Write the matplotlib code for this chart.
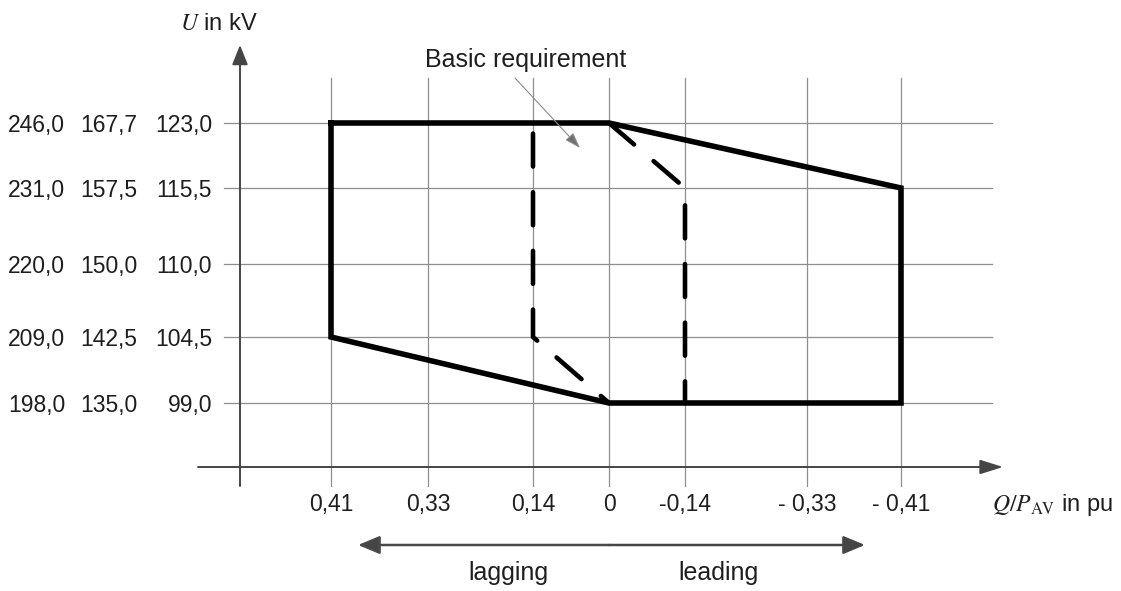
import numpy as np
import matplotlib
matplotlib.use("Agg")
import matplotlib.pyplot as plt
from matplotlib.transforms import blended_transform_factory as blend

plt.rcParams["font.family"] = ["Liberation Sans", "DejaVu Sans"]
plt.rcParams["mathtext.fontset"] = "stix"

# ---- data -------------------------------------------------------------
q_ticks = [0.41, 0.33, 0.14, 0.0, -0.14, -0.33, -0.41]
q_labels = ["0,41", "0,33", "0,14", "0", "-0,14", "- 0,33", "- 0,41"]

u_ticks = [123.0, 115.5, 110.0, 104.5, 99.0]
u_labels_400 = ["246,0", "231,0", "220,0", "209,0", "198,0"]
u_labels_300 = ["167,7", "157,5", "150,0", "142,5", "135,0"]
u_labels_220 = ["123,0", "115,5", "110,0", "104,5", "99,0"]

# full operating range (solid outline)
q_range = [0.41, 0.0, -0.41, -0.41, 0.0, 0.41, 0.41]
u_range = [123.0, 123.0, 115.5, 99.0, 99.0, 104.5, 123.0]

# basic requirement (dashed boundaries)
q_basic_lag = [0.14, 0.14, 0.0]
u_basic_lag = [123.0, 104.5, 99.0]
q_basic_lead = [0.0, -0.14, -0.14]
u_basic_lead = [123.0, 115.5, 99.0]

# ---- schematic (non-uniform) axis scales -----------------------------
W, H = 1121, 591
q_grid_px = [331, 428, 533, 609, 685, 807, 901]
u_grid_px = [123, 188, 264, 337, 403]


def piecewise(vals, pos):
    vals = np.asarray(vals, float)
    order = np.argsort(vals)
    xp = vals[order]
    fp = -np.asarray(pos, float)[order]
    s0 = (fp[1] - fp[0]) / (xp[1] - xp[0])
    s1 = (fp[-1] - fp[-2]) / (xp[-1] - xp[-2])

    def fwd(v):
        v = np.asarray(v, float)
        out = np.interp(v, xp, fp)
        out = np.where(v < xp[0], fp[0] + (v - xp[0]) * s0, out)
        out = np.where(v > xp[-1], fp[-1] + (v - xp[-1]) * s1, out)
        return out

    def inv(t):
        t = np.asarray(t, float)
        out = np.interp(t, fp, xp)
        out = np.where(t < fp[0], xp[0] + (t - fp[0]) / s0, out)
        out = np.where(t > fp[-1], xp[-1] + (t - fp[-1]) / s1, out)
        return out

    return fwd, inv


qf, qi = piecewise(q_ticks, q_grid_px)
uf, ui = piecewise(u_ticks, u_grid_px)

fig = plt.figure(figsize=(W / 100, H / 100), dpi=100)
ax = fig.add_axes([0, 0, 1, 1])
ax.set_xscale("function", functions=(qf, qi))
ax.set_yscale("function", functions=(uf, ui))
ax.set_xlim(float(qi(0.0)), float(qi(-W)))
ax.set_ylim(float(ui(-H)), float(ui(0.0)))
ax.axis("off")


def P(px, py):
    return (px / W, 1 - py / H)


tx = blend(ax.transData, ax.transAxes)
ty = blend(ax.transAxes, ax.transData)

grid_c = "#8f8f8f"
axis_c = "#8a8a8a"
head_c = "#454545"
text_c = "#1e1e1e"
fs = 16.5

# grid
for q in q_ticks:
    ax.plot([q, q], [1 - 486 / H, 1 - 78 / H], transform=tx, color=grid_c, lw=0.9, zorder=1)
for u in u_ticks:
    ax.plot([224 / W, 992 / W], [u, u], transform=ty, color=grid_c, lw=0.9, zorder=1)

# coordinate axes with arrowheads
ax.annotate("", xy=P(240, 45), xytext=P(240, 486), xycoords="axes fraction",
            arrowprops=dict(arrowstyle="-|>,head_length=0.6,head_width=0.24",
                            mutation_scale=20, color=axis_c, fc=head_c, ec=head_c,
                            lw=1.4, shrinkA=0, shrinkB=0), zorder=2)
ax.annotate("", xy=P(1003, 467), xytext=P(198, 467), xycoords="axes fraction",
            arrowprops=dict(arrowstyle="-|>,head_length=0.7,head_width=0.22",
                            mutation_scale=20, color=axis_c, fc=head_c, ec=head_c,
                            lw=1.4, shrinkA=0, shrinkB=0), zorder=2)

# operating range and basic requirement
ax.plot(q_range, u_range, color="black", lw=4.0, solid_joinstyle="miter", zorder=4)
ax.plot(q_basic_lag, u_basic_lag, color="black", lw=3.3,
        linestyle=(10.5, (7.2, 5.6)), dash_capstyle="round", zorder=3)
ax.plot(q_basic_lead, u_basic_lead, color="black", lw=3.3,
        linestyle=(0, (7.2, 5.6)), dash_capstyle="round", zorder=3)

# tick labels
for q, lab in zip(q_ticks, q_labels):
    ax.text(q, 1 - 502 / H, lab, transform=tx, ha="center", va="center_baseline",
            fontsize=fs, color=text_c)
for u, a, b, c in zip(u_ticks, u_labels_400, u_labels_300, u_labels_220):
    for xr, lab in ((65, a), (137, b), (212, c)):
        ax.text(xr / W, u, lab, transform=ty, ha="right", va="center_baseline",
                fontsize=fs, color=text_c)

# axis titles
ax.text(*P(180, 22), r"$U$ in kV", transform=ax.transAxes, ha="left",
        va="center_baseline", fontsize=17, color=text_c)
ax.text(*P(992, 502), r"$Q/P_{\mathrm{AV}}$ in pu", transform=ax.transAxes, ha="left",
        va="center_baseline", fontsize=17, color=text_c)

# annotation for the basic requirement
ax.text(*P(425, 57), "Basic requirement", transform=ax.transAxes, ha="left",
        va="center_baseline", fontsize=18, color=text_c)
ax.annotate("", xy=P(580, 148), xytext=P(515, 78), xycoords="axes fraction",
            arrowprops=dict(arrowstyle="-|>,head_length=0.6,head_width=0.2",
                            mutation_scale=16, color="#8a8a8a", fc="#707070",
                            lw=0.8, shrinkA=0, shrinkB=0), zorder=5)

# lagging / leading direction arrows
ax.annotate("", xy=P(358, 545), xytext=(0.0, 1 - 545 / H), xycoords="axes fraction",
            textcoords=tx,
            arrowprops=dict(arrowstyle="-|>,head_length=0.6,head_width=0.25",
                            mutation_scale=22, color="#4a4a4a", fc=head_c,
                            lw=1.8, shrinkA=0, shrinkB=0))
ax.annotate("", xy=P(865, 545), xytext=(0.0, 1 - 545 / H), xycoords="axes fraction",
            textcoords=tx,
            arrowprops=dict(arrowstyle="-|>,head_length=0.6,head_width=0.25",
                            mutation_scale=22, color="#a0a0a0", fc=head_c, ec=head_c,
                            lw=1.8, shrinkA=0, shrinkB=0))
ax.text(*P(508, 580), "lagging", transform=ax.transAxes, ha="center",
        va="baseline", fontsize=18, color=text_c)
ax.text(*P(719, 580), "leading", transform=ax.transAxes, ha="center",
        va="baseline", fontsize=18, color=text_c)

fig.savefig("out.png", dpi=100, facecolor="white")
